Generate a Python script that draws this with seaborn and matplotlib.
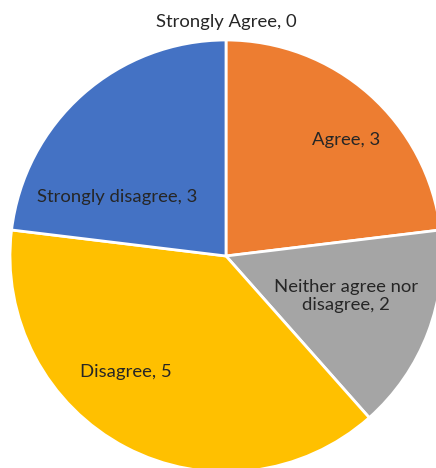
import matplotlib
matplotlib.use("Agg")
import matplotlib.pyplot as plt
import seaborn as sns

categories = ["Strongly Agree", "Agree", "Neither agree nor\ndisagree", "Disagree", "Strongly disagree"]
values = [0, 3, 2, 5, 3]
colors = ["#5B9BD5", "#ED7D31", "#A5A5A5", "#FFC000", "#4472C4"]

sns.set_theme(style="white")
plt.rcParams['font.family'] = ['Lato', 'DejaVu Sans']

fig = plt.figure(figsize=(4.36, 4.68), dpi=100)
ax = fig.add_axes([10/436, -4/468, 432/436, 432/468])
wedges, _ = ax.pie(values, colors=colors, startangle=90, counterclock=False,
                   radius=1.0, wedgeprops=dict(edgecolor="white", linewidth=2))
ax.set_xlim(-1, 1)
ax.set_ylim(-1, 1)
ax.set_aspect("equal")
ax.axis("off")
for a in ax.patches:
    a.set_clip_on(False)

label_pos = [(0.0, 1.083), (0.556, 0.537), (0.556, -0.185), (-0.463, -0.537), (-0.505, 0.273)]
for cat, val, (x, y) in zip(categories, values, label_pos):
    ax.text(x, y, f"{cat}, {val}", ha="center", va="center", fontsize=13.3,
            color="#262626", linespacing=1.2, clip_on=False)

fig.savefig("out.png", dpi=100)
